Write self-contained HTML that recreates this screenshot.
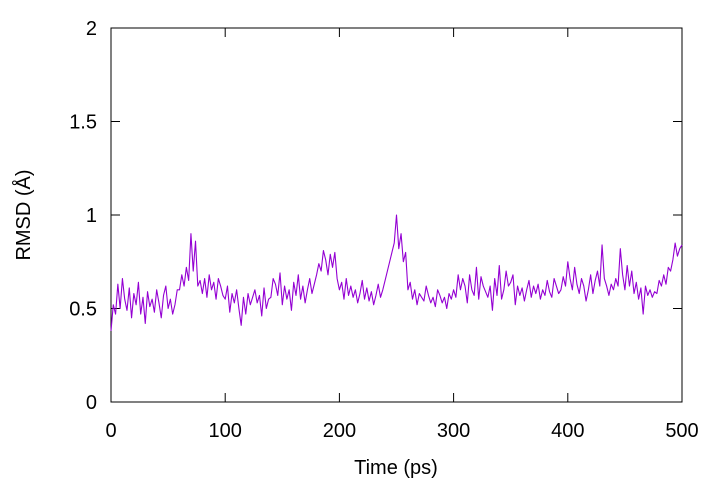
<!DOCTYPE html>
<html><head><meta charset="utf-8"><style>
body{margin:0;background:#fff}
svg{display:block;font-family:"Liberation Sans",sans-serif}
</style></head><body>
<svg id="chart" width="720" height="480" viewBox="0 0 720 480" xmlns="http://www.w3.org/2000/svg">
<rect x="111" y="28" width="571" height="374" fill="none" stroke="#000" stroke-width="1"/>
<g id="ticks"></g>
<path id="series" fill="none" stroke="#9400d3" stroke-width="1.1" stroke-linejoin="round"/>
<text x="396" y="474" font-size="20" text-anchor="middle">Time (ps)</text>
<text transform="translate(30,215) rotate(-90)" font-size="20" text-anchor="middle">RMSD (Å)</text>
</svg>
<script>
const xTicks=[0,100,200,300,400,500];
const yTicks=[0,0.5,1,1.5,2];
const yTickLabels=["0","0.5","1","1.5","2"];
const timeStep=2;
const rmsd=[
0.38,0.52,0.47,0.63,0.50,0.66,0.55,0.49,0.61,0.45,0.58,0.52,0.64,0.47,0.56,0.42,0.59,0.51,0.55,0.48,
0.60,0.53,0.45,0.57,0.62,0.50,0.55,0.47,0.52,0.60,
0.60,0.68,0.62,0.72,0.65,
0.90,0.70,0.86,0.62,0.65,
0.58,0.66,0.56,0.68,0.60,0.64,0.55,0.66,0.62,0.57,
0.55,0.62,0.48,0.58,0.53,0.60,0.50,0.41,0.56,0.47,0.58,0.52,0.56,0.60,0.53,0.57,0.46,0.61,0.50,0.55,
0.56,0.66,0.63,0.57,0.69,0.52,0.62,0.55,0.60,0.49,0.64,0.57,0.68,0.55,0.62,0.53,0.60,0.66,0.58,0.63,
0.68,0.74,0.70,0.81,0.76,0.68,0.79,0.72,0.80,0.66,
0.60,0.64,0.55,0.66,0.57,0.62,0.56,0.60,0.53,0.58,0.65,0.55,0.61,0.54,0.59,0.52,0.57,0.63,0.56,0.60,
0.65,0.70,0.75,0.80,0.85,
1.00,0.82,0.90,0.75,0.80,
0.60,0.64,0.55,0.60,0.52,0.58,0.56,0.54,0.62,0.57,0.53,0.56,0.51,0.60,0.57,0.53,0.56,0.50,0.58,0.55,
0.60,0.56,0.68,0.60,0.66,0.62,0.53,0.68,0.60,0.57,0.72,0.55,0.67,0.62,0.59,0.56,0.62,0.49,0.66,0.57,
0.73,0.55,0.60,0.70,0.62,0.64,0.68,0.52,0.62,0.57,
0.61,0.54,0.60,0.65,0.56,0.62,0.58,0.63,0.55,0.60,0.57,0.65,0.59,0.56,0.66,0.62,0.58,0.60,0.67,0.62,
0.75,0.66,0.60,0.72,0.63,0.58,0.66,0.62,0.54,0.60,0.68,0.58,0.65,0.70,0.62,0.84,0.66,0.62,0.57,0.63,
0.60,0.66,0.62,0.82,0.68,0.60,0.73,0.62,0.70,0.58,0.64,0.55,0.61,0.47,0.62,0.57,0.60,0.56,0.59,0.58,
0.65,0.62,0.68,0.63,0.72,0.70,0.76,0.85,0.78,0.82,0.84
];
const X0=111,X1=682,Y0=402,Y1=28;
const xs=v=>X0+(v-0)/(500-0)*(X1-X0);
const ys=v=>Y0-(v-0)/(2-0)*(Y0-Y1);
const NS="http://www.w3.org/2000/svg";
const g=document.getElementById('ticks');
function mk(tag,attrs){const e=document.createElementNS(NS,tag);for(const k in attrs)e.setAttribute(k,attrs[k]);g.appendChild(e);return e;}
xTicks.forEach(t=>{
  const x=xs(t);
  const a=mk('line',{x1:x,x2:x,y1:Y0,y2:Y0-9,stroke:'#000'});
  
  
  const b=mk('line',{x1:x,x2:x,y1:Y1,y2:Y1+9,stroke:'#000'});
  
  
  const l=mk('text',{x:x,y:Y0+35,'font-size':20,'text-anchor':'middle'});
  l.textContent=String(t);
  
  
});
yTicks.forEach((t,i)=>{
  const y=ys(t);
  const a=mk('line',{x1:X0,x2:X0+9,y1:y,y2:y,stroke:'#000'});
  
  
  const b=mk('line',{x1:X1,x2:X1-9,y1:y,y2:y,stroke:'#000'});
  
  
  const l=mk('text',{x:X0-14,y:y+7,'font-size':20,'text-anchor':'end'});
  l.textContent=yTickLabels[i];
  
  
});
const d=rmsd.map((v,i)=>(i?'L':'M')+xs(i*timeStep).toFixed(2)+','+ys(v).toFixed(2)).join('');
document.getElementById('series').setAttribute('d',d);
</script>
</body></html>
